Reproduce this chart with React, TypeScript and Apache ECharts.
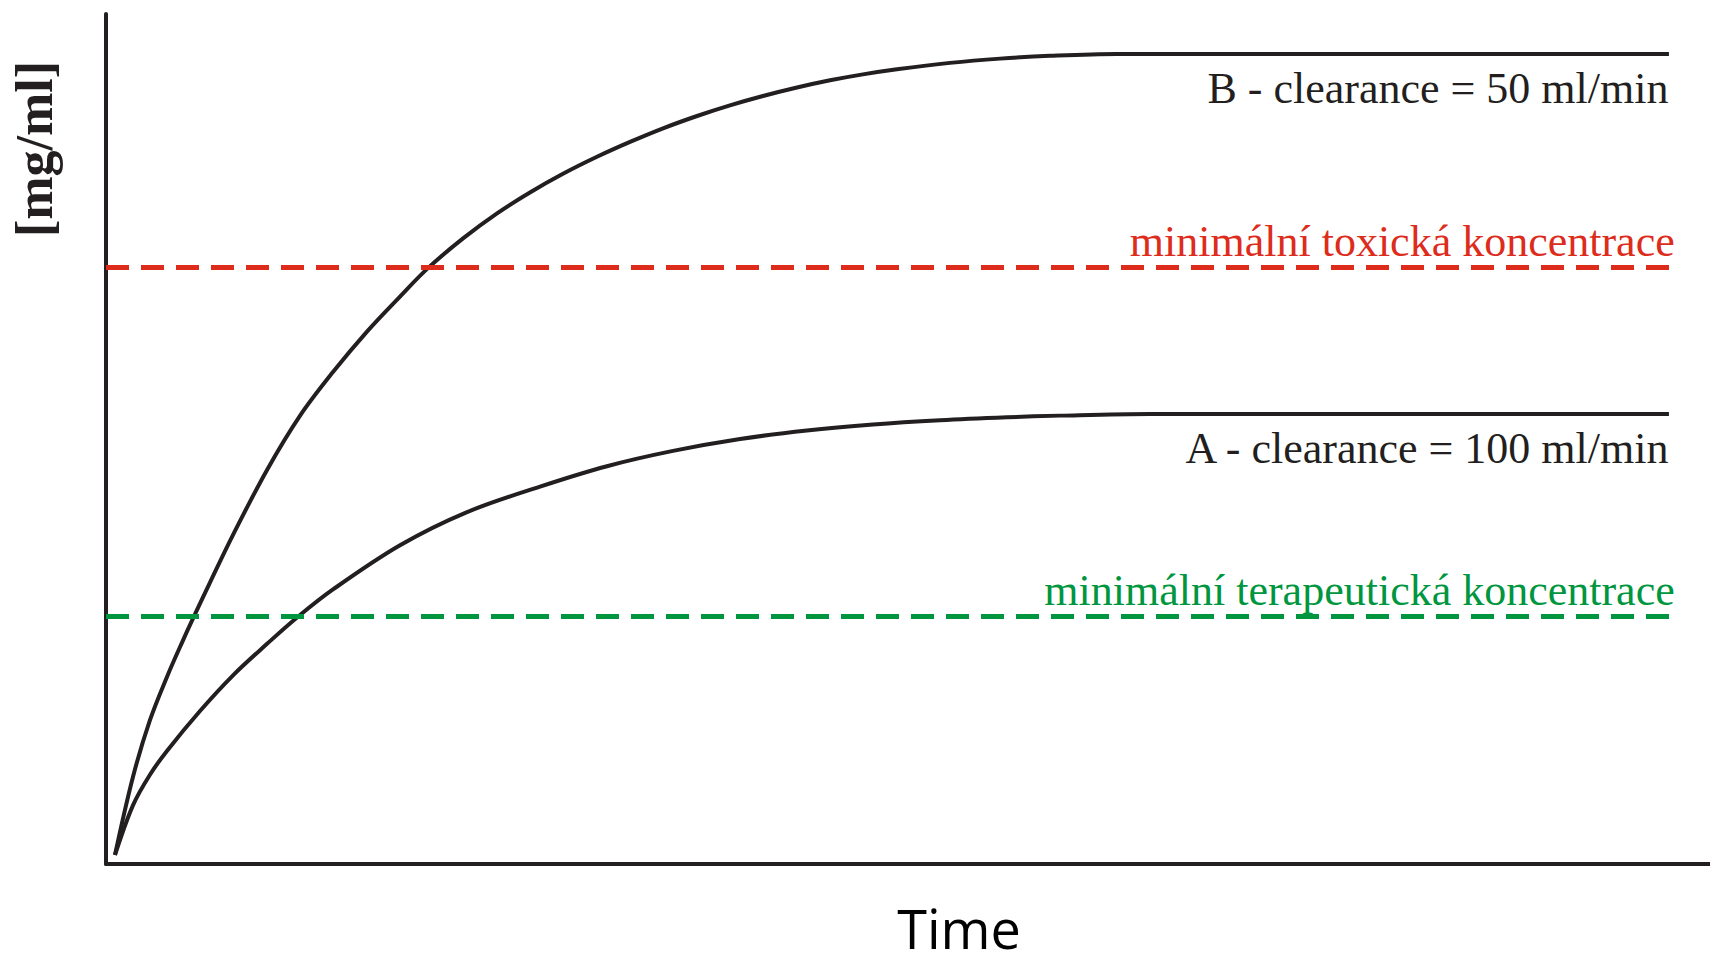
import React, { useEffect, useRef } from "react";
import * as echarts from "echarts";

// Curve B (clearance 50 ml/min) — [time, concentration]
const curveB: [number, number][] = [
  [0.56, 1.06], [1.68, 10.24], [2.74, 16.92], [3.8, 22.01], [4.8, 26.31], [5.55, 29.39],
  [6.48, 33.11], [7.92, 38.73], [10.04, 46.36], [12.09, 52.72], [14.15, 57.87], [16.27, 62.64],
  [18.33, 66.76], [20.07, 70.1], [22.26, 73.6], [24.38, 76.55], [26.43, 79.0], [28.49, 81.2],
  [30.61, 83.2], [32.67, 84.95], [34.73, 86.55], [36.85, 88.0], [38.9, 89.25], [40.96, 90.35],
  [43.08, 91.35], [45.14, 92.2], [47.19, 92.9], [49.31, 93.5], [52.62, 94.25], [55.74, 94.75],
  [58.85, 95.08], [63.03, 95.3], [97.44, 95.3],
];

// Curve A (clearance 100 ml/min)
const curveA: [number, number][] = [
  [0.56, 1.06], [1.68, 6.9], [2.74, 10.5], [3.8, 13.3], [5.86, 18.0], [7.92, 22.2],
  [10.04, 25.9], [11.91, 29.0], [14.15, 32.3], [18.33, 37.5], [22.51, 41.4], [27.06, 44.4],
  [31.23, 46.8], [35.35, 48.6], [39.53, 50.0], [43.7, 51.0], [47.82, 51.7], [52.0, 52.2],
  [56.17, 52.55], [59.48, 52.75], [65.09, 52.94], [97.44, 52.94],
];

// Threshold levels: [toxic, therapeutic]
const thresholdLevels = [70.2, 29.1];
const thresholdNames = ["minimální toxická koncentrace", "minimální terapeutická koncentrace"];
const thresholdColors = ["#dd2c1c", "#009640"];
const thresholdRange = [0, 97.8];

const curveNames = ["B - clearance = 50 ml/min", "A - clearance = 100 ml/min"];
const axisTitles = ["Time", "[mg/ml]"];

const INK = "#231f20";

export default function App() {
  const ref = useRef<HTMLDivElement>(null);

  useEffect(() => {
    if (!ref.current) return;
    const chart = echarts.init(ref.current, undefined, { renderer: "svg" });

    const curveSeries = (name: string, data: [number, number][]) => {
      const last = data[data.length - 1];
      return {
        type: "line",
        name,
        data,
        symbol: "none",
        showSymbol: false,
        smooth: 0.35,
        lineStyle: { color: INK, width: 4 },
        silent: true,
        z: 3,
        markPoint: {
          silent: true,
          symbol: "circle",
          symbolSize: 1,
          itemStyle: { color: "rgba(0,0,0,0)" },
          label: {
            show: true,
            position: [0, 13],
            align: "right",
            verticalAlign: "top",
            formatter: name,
            color: INK,
            fontFamily: "Liberation Serif",
            fontSize: 44,
          },
          data: [{ coord: [last[0], last[1]] }],
        },
      };
    };

    const thresholdSeries = thresholdLevels.map((lvl, i) => ({
      type: "line",
      name: thresholdNames[i],
      data: [],
      silent: true,
      z: 2,
      markLine: {
        silent: true,
        symbol: ["none", "none"],
        lineStyle: { color: thresholdColors[i], width: 5, type: [23, 12] },
        label: {
          show: true,
          position: "insideEndTop",
          distance: [0, 4],
          formatter: thresholdNames[i],
          color: thresholdColors[i],
          fontFamily: "Liberation Serif",
          fontSize: 44,
        },
        data: [[{ coord: [thresholdRange[0], lvl] }, { coord: [thresholdRange[1], lvl] }]],
      },
    }));

    chart.setOption({
      animation: false,
      backgroundColor: "#ffffff",
      grid: { left: 106, right: 0, top: 14, bottom: 102, containLabel: false },
      xAxis: {
        type: "value",
        min: 0,
        max: 100,
        axisLine: { show: true, onZero: false, lineStyle: { color: INK, width: 4 } },
        axisTick: { show: false },
        axisLabel: { show: false },
        splitLine: { show: false },
      },
      yAxis: {
        type: "value",
        min: 0,
        max: 100,
        axisLine: { show: true, onZero: false, lineStyle: { color: INK, width: 4 } },
        axisTick: { show: false },
        axisLabel: { show: false },
        splitLine: { show: false },
      },
      graphic: [
        {
          type: "text",
          x: 959,
          y: 928,
          style: {
            text: axisTitles[0],
            font: '54px "Open Sans"',
            fill: "#000000",
            textAlign: "center",
            textVerticalAlign: "middle",
          },
        },
        {
          type: "text",
          x: 34,
          y: 149,
          rotation: Math.PI / 2,
          style: {
            text: axisTitles[1],
            font: 'bold 52px "Liberation Serif"',
            fill: INK,
            textAlign: "center",
            textVerticalAlign: "middle",
          },
        },
      ],
      series: [
        curveSeries(curveNames[0], curveB),
        curveSeries(curveNames[1], curveA),
        ...thresholdSeries,
      ],
    });

    return () => chart.dispose();
  }, []);

  return (
    <div
      ref={ref}
      style={{ position: "fixed", left: 0, top: 0, width: 1710, height: 966, background: "#fff" }}
    />
  );
}
